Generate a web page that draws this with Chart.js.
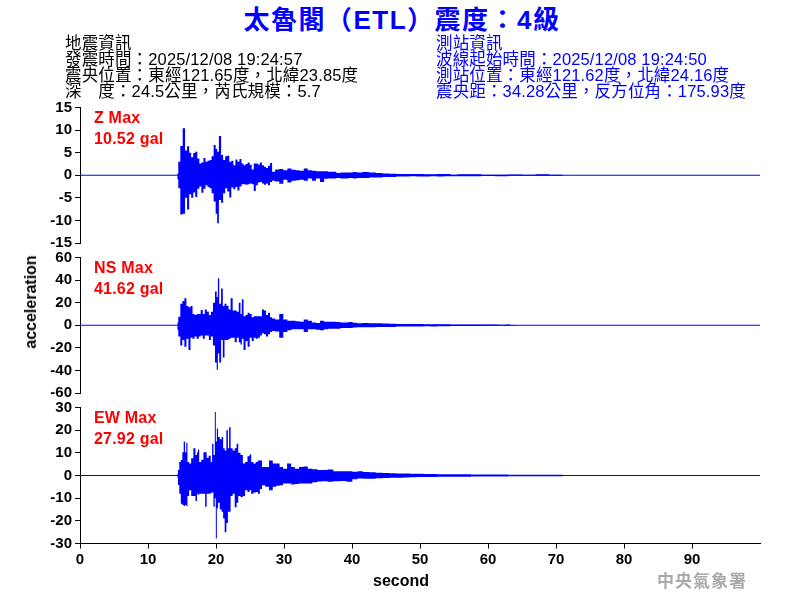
<!DOCTYPE html>
<html>
<head>
<meta charset="utf-8">
<script src="https://cdn.jsdelivr.net/npm/chart.js@4"></script>
<style>
  html, body { margin: 0; padding: 0; background: #fff; }
  #page { position: relative; width: 800px; height: 600px; overflow: hidden; background: #fff; }
  canvas { position: absolute; left: 0; }
  .txt { position: absolute; white-space: pre; font-family: "Liberation Sans", "Noto Sans CJK TC", sans-serif; }
  #title { left: 0; width: 804px; top: 5px; text-align: center; color: #0000ff; font-size: 26px; font-weight: bold; line-height: 30px; letter-spacing: 1.5px; }
  .info { font-size: 16.5px; line-height: 16px; letter-spacing: 0.15px; }
  .maxlabel { left: 94px; color: #ff0000; font-size: 16px; line-height: 21px; font-weight: bold; letter-spacing: 0.2px; }
  #ylab { left: 31px; top: 302px; font-size: 16px; font-weight: bold; color: #000; transform: translate(-50%, -50%) rotate(-90deg); }
  #xlab { left: 401px; top: 571px; font-size: 16px; line-height: 20px; font-weight: bold; color: #000; transform: translateX(-50%); }
  #stamp { left: 657px; top: 572px; font-size: 17px; line-height: 20px; font-weight: bold; color: #aaaaaa; letter-spacing: 1px; }
</style>
</head>
<body>
<div id="page">
  <canvas id="chartZ"></canvas>
  <canvas id="chartNS"></canvas>
  <canvas id="chartEW"></canvas>
  <div id="title" class="txt"></div>
  <div id="infoLeft" class="txt info" style="left:65px;top:35px;color:#000"></div>
  <div id="infoRight" class="txt info" style="left:436px;top:35px;color:#0000ff"></div>
  <div id="labelZ" class="txt maxlabel" style="top:107px"></div>
  <div id="labelNS" class="txt maxlabel" style="top:257px"></div>
  <div id="labelEW" class="txt maxlabel" style="top:407px"></div>
  <div id="ylab" class="txt">acceleration</div>
  <div id="xlab" class="txt">second</div>
  <div id="stamp" class="txt">中央氣象署</div>
</div>
<script>
var titleText = "太魯閣（ETL）震度：4級";
var quakeInfo = ["地震資訊", "發震時間：2025/12/08 19:24:57", "震央位置：東經121.65度，北緯23.85度", "深　度：24.5公里，芮氏規模：5.7"];
var stationInfo = ["測站資訊", "波線起始時間：2025/12/08 19:24:50", "測站位置：東經121.62度，北緯24.16度", "震央距：34.28公里，反方位角：175.93度"];
var maxZ = ["Z Max", "10.52 gal"];
var maxNS = ["NS Max", "41.62 gal"];
var maxEW = ["EW Max", "27.92 gal"];

var xTicks = [0, 10, 20, 30, 40, 50, 60, 70, 80, 90];

// envelope of each trace (seconds, top, bottom)
var zSec = [14.3,14.6,14.9,15.3,15.6,15.9,16.2,16.5,16.8,17.1,17.4,17.7,18.0,18.3,18.6,18.9,19.2,19.5,19.8,20.1,20.25,20.6,20.9,21.2,21.5,21.8,22.1,22.4,22.7,23.0,23.3,23.6,23.9,24.2,24.5,24.8,25.1,25.4,25.7,26.0,26.3,26.6,26.9,27.2,27.5,27.8,28.1,28.4,29.0,29.6,30.2,30.8,31.4,32.0,32.6,33.2,33.8,34.4,35.0,35.6,36.2,36.8,37.4,38.0,38.6,39.2,39.8,40.4,41,42,43,44,45,46,47,48,49,50,51,52,53,54,55,56,58,60,62,64,66,68,70,72];
var zTop = [0.4,3.0,6.5,10.4,5.5,6.4,5.0,4.0,4.9,5.2,3.7,2.6,2.8,3.8,3.0,3.2,3.4,4.2,6.7,5.8,5.2,8.7,4.5,3.4,4.2,4.3,3.0,3.2,2.2,3.5,3.0,3.6,2.6,2.2,2.5,2.8,2.3,1.3,2.6,2.6,2.4,2.8,2.2,1.9,1.6,2.1,2.7,0.8,1.3,1.4,1.1,1.5,1.2,1.1,1.0,1.5,1.1,1.0,0.9,0.9,0.9,0.8,0.8,0.5,0.6,0.6,0.6,0.7,0.6,0.7,0.6,0.5,0.4,0.35,0.3,0.3,0.25,0.25,0.2,0.2,0.3,0.25,0.1,0.2,0.2,0.1,0.1,0.15,0.1,0.2,0.1,0];
var zBot = [-0.9,-2.9,-8.7,-8.5,-5.0,-7.6,-4.2,-5.0,-3.8,-4.8,-3.0,-2.5,-3.9,-3.0,-2.2,-2.6,-2.9,-4.0,-5.8,-8.5,-10.6,-5.5,-6.1,-4.0,-2.9,-3.6,-4.9,-2.7,-3.1,-2.6,-3.4,-2.5,-2.0,-2.0,-2.1,-2.0,-1.8,-2.0,-3.5,-2.2,-1.6,-1.5,-1.8,-2.1,-1.8,-2.2,-1.5,-1.2,-1.4,-1.9,-1.0,-1.6,-1.2,-1.1,-1.0,-1.2,-0.7,-1.2,-0.7,-1.5,-0.8,-0.7,-0.7,-0.6,-0.7,-0.7,-0.6,-0.7,-0.6,-0.6,-0.5,-0.5,-0.4,-0.4,-0.3,-0.3,-0.2,-0.25,-0.3,-0.2,-0.25,-0.2,-0.2,-0.2,-0.2,-0.15,-0.2,-0.1,-0.1,-0.1,-0.1,0];

var nsSec = [14.3,14.6,14.9,15.2,15.5,15.8,16.1,16.4,16.7,17.0,17.3,17.6,17.9,18.2,18.5,18.8,19.1,19.4,19.7,20.0,20.2,20.35,20.6,20.9,21.1,21.4,21.7,22.0,22.3,22.6,22.9,23.2,23.5,23.7,23.9,24.2,24.5,24.8,25.1,25.4,25.7,26,26.3,26.6,26.9,27.2,27.5,27.8,28.1,28.4,29,29.6,30.2,30.8,31.4,32,32.6,33.2,33.8,34.4,35,35.6,36.2,36.8,37.4,38,38.6,39.2,39.8,40.4,41,42,43,44,45,46,47,48,49,50,51,52,53,54,55,56,57,58,59,60,61,62,63,63.6,65,72];
var nsTop = [2.4,7.6,19,21.5,24,17,16,17,10,9,10,10,13.5,10,14,12,9,12,20,30,25,41.6,19,32.6,17,19,17,14,24,13,13,12,20,10,23,8,9,11,10,7,8,8,8,8,14,13,9,11,7,6,5,10,5,4,4,3.5,3,5,4,2.5,2,4,3,3.2,3,2.8,2.5,2.5,2.8,2.2,1.8,2,1.8,1.8,1.5,1.3,1.2,1.2,1,1,0.9,0.9,0.8,0.8,0.7,0.7,0.6,0.7,0.6,0.6,0.7,0.5,0.6,0.3,0.1,0];
var nsBot = [-4,-10,-18,-13,-19,-12,-22,-11,-12,-10,-12,-10,-9,-12,-9,-9,-13,-10,-18,-33,-39.5,-25,-33,-13,-28.5,-13,-13,-12,-11,-11,-15,-11,-15,-17,-12,-22,-14,-19,-11,-14,-11,-12,-11,-9,-7,-8,-10,-8,-6,-5,-5.5,-11,-6,-4.5,-3.5,-3.5,-3.5,-6,-3.5,-3.5,-4,-4.5,-3.5,-3.2,-3,-3,-2.5,-2.5,-2.5,-2,-1.8,-1.8,-1.8,-1.6,-1.5,-1.5,-1.2,-1.1,-1,-1,-0.9,-1,-0.9,-0.8,-0.7,-0.7,-0.6,-0.6,-0.6,-0.5,-0.5,-0.5,-0.5,-0.3,-0.1,0];

var ewSec = [14.3,14.5,14.7,14.95,15.15,15.35,15.55,15.7,15.9,16.2,16.5,16.85,17.1,17.3,17.4,17.65,18,18.3,18.5,18.75,19.1,19.35,19.5,19.75,19.9,20.05,20.2,20.4,20.7,20.95,21.15,21.4,21.65,21.85,22,22.3,22.6,22.9,23.15,23.4,23.8,24.1,24.45,24.8,25.05,25.3,25.7,26,26.3,26.6,26.95,27.5,28.1,28.6,29.1,29.6,30.1,30.8,31.3,31.9,32.5,33.2,33.8,34.55,35.3,36,36.8,37.7,38.7,39.7,40.4,41.2,42,43,44,45,46,47,48,49,50,51,52,53,54,55,56,57,58,60,62,64,66,68,70,72];
var ewTop = [0.9,2.4,6,6.8,10.3,15,10.3,14.5,6,5.3,7.6,12,9,10.3,11.5,6,7,10.3,10.3,7.8,8.7,6,14,9,28,15,20.7,17,16,17,12,11,20,12,21.3,12,11,12,14,10,9,5.3,6,8.5,9.3,6,5.3,6,6.6,6.6,3.8,3.8,6.6,5.3,5.3,3.8,3,5.3,3.8,3,3.8,4,3,2.8,2.4,2.4,2.6,1.9,1.9,1.9,1.6,1.9,1.5,1.4,1.2,1.1,1,0.9,0.9,0.8,0.8,0.7,0.7,0.6,0.6,0.5,0.5,0.5,0.45,0.4,0.4,0.35,0.3,0.3,0.3,0.25];
var ewBot = [-1,-4.2,-8,-12.5,-13,-13.5,-13,-13.5,-9,-6.5,-9,-9,-11.3,-8,-8.5,-8,-8,-8,-13.8,-8,-8,-7.6,-7.5,-13.8,-10,-27.8,-14.5,-12,-15,-16,-19,-25,-21,-16,-16,-9,-8,-14,-12,-9,-9.5,-9,-6.5,-7.3,-6.5,-8,-7.5,-7.3,-8,-6,-4.3,-5,-6.5,-5,-4.5,-4.3,-3.5,-3.5,-4,-3.8,-3.5,-3.5,-3.5,-3,-2.7,-2.5,-2.8,-2.5,-2.4,-2.8,-1.6,-1.3,-1.4,-1.4,-1.2,-1.1,-1,-1,-0.9,-0.8,-0.7,-0.7,-0.7,-0.6,-0.6,-0.5,-0.5,-0.5,-0.45,-0.4,-0.4,-0.35,-0.3,-0.3,-0.3,-0.25];

function txt(id, lines) {
  document.getElementById(id).textContent = lines.join("\n");
}
txt("title", [titleText]);
txt("infoLeft", quakeInfo);
txt("infoRight", stationInfo);
txt("labelZ", maxZ);
txt("labelNS", maxNS);
txt("labelEW", maxEW);

function toPoints(sec, vals) {
  return sec.map(function (s, i) { return { x: s, y: vals[i] }; });
}

var tickFont = { family: "Liberation Sans", size: 15, weight: "bold" };

function panel(id, top, height, sec, tp, bt, yMax, yStep, isBottom) {
  var cv = document.getElementById(id);
  cv.width = 800;
  cv.height = height;
  cv.style.width = "800px";
  cv.style.height = height + "px";
  cv.style.top = top + "px";
  return new Chart(cv, {
    type: "line",
    data: {
      datasets: [
        // top edge filled down to the bottom edge, no stroke so spikes stay thin
        { data: toPoints(sec, tp), backgroundColor: "#0000ff", borderWidth: 0, pointRadius: 0, stepped: "middle", fill: "+1" },
        { data: toPoints(sec, bt), borderWidth: 0, pointRadius: 0, stepped: "middle", fill: false },
        // baseline runs the whole record
        { data: [{ x: 0, y: 0 }, { x: 100, y: 0 }], borderColor: "#0000ff", borderWidth: 1, pointRadius: 0 },
      ],
    },
    options: {
      responsive: false,
      animation: false,
      parsing: false,
      // half pixel offset puts the zero line on a whole pixel row
      layout: { padding: { top: 12.5, right: 40, bottom: isBottom ? 0 : 11.5, left: 0 } },
      plugins: { legend: { display: false }, tooltip: { enabled: false } },
      scales: {
        x: {
          type: "linear",
          display: isBottom,
          min: 0,
          max: 100,
          grid: { drawOnChartArea: false, color: "#000", tickLength: 5 },
          border: { color: "#000", width: 1 },
          afterBuildTicks: function (axis) {
            axis.ticks = xTicks.map(function (v) { return { value: v }; });
          },
          afterFit: function (axis) { if (isBottom) axis.height = 56.5; },
          ticks: { color: "#000", font: tickFont, padding: 2, maxRotation: 0, autoSkip: false },
        },
        y: {
          min: -yMax,
          max: yMax,
          grid: { drawOnChartArea: false, color: "#000", tickLength: 5 },
          border: { color: "#000", width: 1 },
          afterFit: function (axis) { axis.width = 80; },
          ticks: { color: "#000", font: tickFont, padding: 3, stepSize: yStep, autoSkip: false },
        },
      },
    },
  });
}

var chartZ = panel("chartZ", 95, 160, zSec, zTop, zBot, 15, 5, false);
var chartNS = panel("chartNS", 245, 160, nsSec, nsTop, nsBot, 60, 20, false);
var chartEW = panel("chartEW", 395, 205, ewSec, ewTop, ewBot, 30, 10, true);
</script>
</body>
</html>
